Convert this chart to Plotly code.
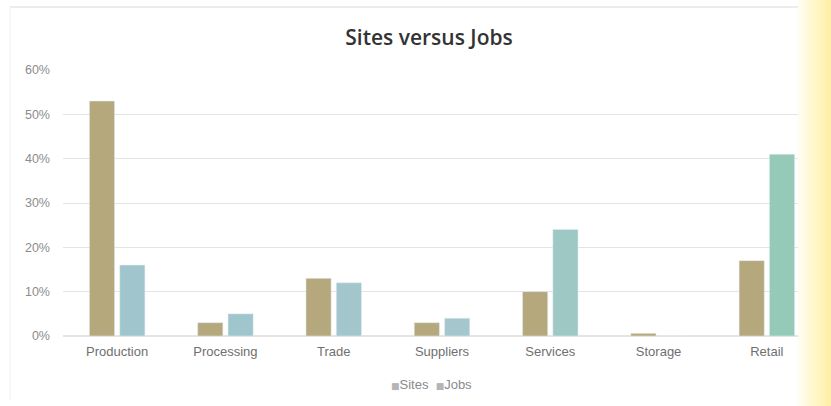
import plotly.graph_objects as go

# Share of sites and jobs by sector
categories = ["Production", "Processing", "Trade", "Suppliers", "Services", "Storage", "Retail"]
sites = [0.53, 0.03, 0.13, 0.03, 0.10, 0.006, 0.17]
jobs = [0.16, 0.05, 0.12, 0.04, 0.24, 0.0, 0.41]
series_names = ["Sites", "Jobs"]

sites_color = "#b4a87c"
jobs_colors = ["#a0c5cc", "#9fc6cc", "#a2c6cc", "#a3c7cc", "#9dc8c3", "#9dc8c3", "#95cab8"]
tick_vals = [0, 0.1, 0.2, 0.3, 0.4, 0.5, 0.6]

W, H = 831, 406
ML, MR, MT, MB = 63, 10, 70, 70
plot_w = W - ML - MR
plot_h = H - MT - MB


def px_x(p):
    return (p - ML) / plot_w


def px_y(p):
    return (H - MB - p) / plot_h


fig = go.Figure()
fig.add_trace(go.Bar(x=categories, y=sites, name=series_names[0], marker_color=sites_color,
                     showlegend=False))
fig.add_trace(go.Bar(x=categories, y=jobs, name=series_names[1], marker_color=jobs_colors,
                     showlegend=False))

shapes = []
# thin frame lines around the chart card
shapes.append(dict(type="line", xref="paper", yref="paper",
                   x0=px_x(10), x1=px_x(805), y0=px_y(7), y1=px_y(7),
                   line=dict(color="#e6e6e6", width=1.5)))
shapes.append(dict(type="line", xref="paper", yref="paper",
                   x0=px_x(10), x1=px_x(10), y0=px_y(7), y1=px_y(400),
                   line=dict(color="#f0f0f0", width=1)))
# warm yellow fade along the right edge
n = 16
x_start, x_end = 798, W
c0 = (255, 253, 240)
c1 = (255, 240, 165)
for i in range(n):
    t = i / (n - 1)
    r = int(c0[0] + (c1[0] - c0[0]) * t)
    g = int(c0[1] + (c1[1] - c0[1]) * t)
    b = int(c0[2] + (c1[2] - c0[2]) * t)
    xa = x_start + (x_end - x_start) * i / n
    xb = x_start + (x_end - x_start) * (i + 1) / n + 0.5
    shapes.append(dict(type="rect", xref="paper", yref="paper", layer="above",
                       x0=px_x(xa), x1=px_x(xb), y0=px_y(H), y1=px_y(0),
                       fillcolor=f"rgb({r},{g},{b})", line=dict(width=0)))

# compact legend: small grey square keys set tight against the series names
legend_text = "&nbsp;&nbsp;".join(
    f"<span style='color:#b5b5b5;font-family:DejaVu Sans;font-size:9px'>■</span>{nm}"
    for nm in series_names)
annotations = [dict(text=legend_text, xref="paper", yref="paper", x=px_x(431), y=px_y(384),
                    xanchor="center", yanchor="middle", showarrow=False,
                    font=dict(family="Liberation Sans, Arial, sans-serif", size=13,
                              color="#8a8a8a"))]

fig.update_layout(
    width=W, height=H,
    margin=dict(l=ML, r=MR, t=MT, b=MB),
    paper_bgcolor="white", plot_bgcolor="white",
    showlegend=False,
    title=dict(text="Sites versus Jobs", x=px_x(429), xref="paper", xanchor="center",
               y=1 - 38 / H, yanchor="middle",
               font=dict(family="Open Sans, sans-serif", size=21, weight=600, color="#333333")),
    barmode="group", bargap=0.44, bargroupgap=0.17,
    font=dict(family="Liberation Sans, Arial, sans-serif", size=12, color="#808080"),
    xaxis=dict(showgrid=False, showline=False, ticks="", ticklabelstandoff=6,
               tickfont=dict(size=13, color="#6f6f6f")),
    yaxis=dict(range=[0, 0.6], tickvals=tick_vals, tickformat=".0%", showgrid=True,
               gridcolor="#e4e4e4", gridwidth=1, zeroline=True, zerolinecolor="#e4e4e4",
               showline=False, ticks="", ticklabelstandoff=12,
               tickfont=dict(size=12.5, color="#8c8c8c")),
    annotations=annotations,
    shapes=shapes,
)

fig.write_html("out.html")
